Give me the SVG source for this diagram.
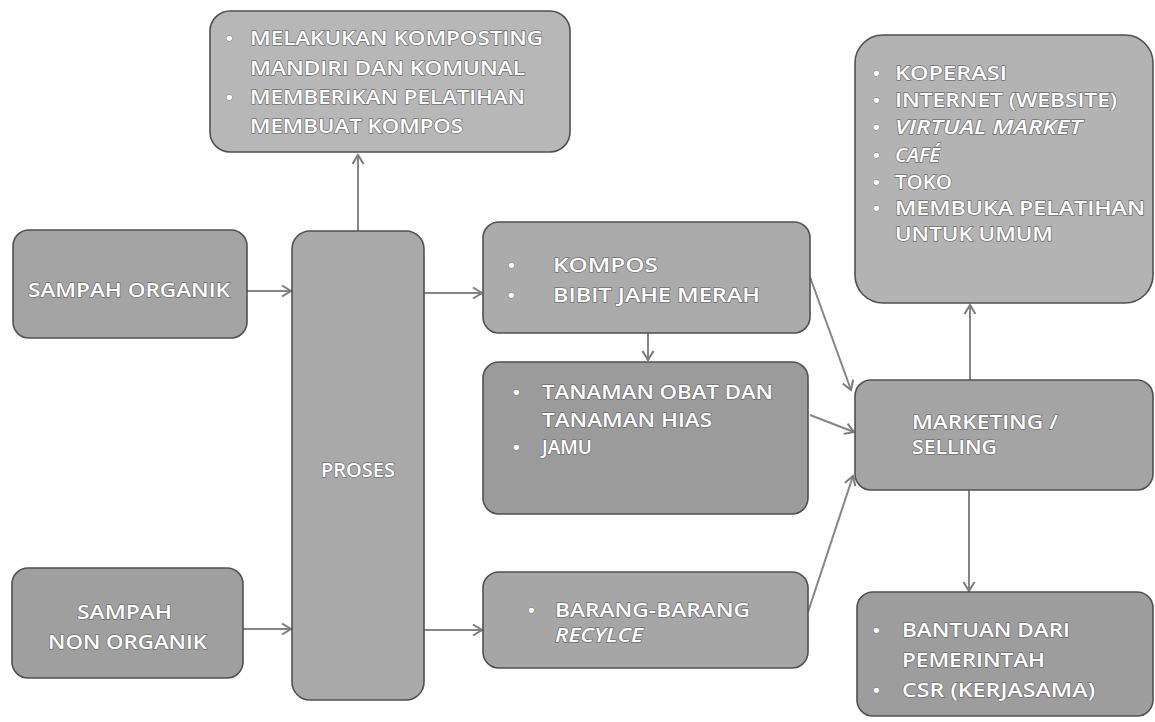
<svg xmlns="http://www.w3.org/2000/svg" width="1155" height="722" viewBox="0 0 1155 722">
<defs>
<marker id="arr" markerWidth="14" markerHeight="14" refX="11" refY="7" orient="auto" markerUnits="userSpaceOnUse">
<path d="M2,1.5 L11,7 L2,12.5" fill="none" stroke="#7a7a7a" stroke-width="2"/>
</marker>
<style>
.box{stroke:#505050;stroke-width:1.6}
.t{font-family:"Open Sans","Liberation Sans",sans-serif;font-size:19.5px;font-weight:600;fill:#ffffff;stroke:#707070;stroke-width:1.3;paint-order:stroke}
.i{font-style:italic}
.b{font-family:"Liberation Sans",sans-serif;font-size:19px;font-weight:bold;fill:#ffffff;stroke:#777;stroke-width:0.8;paint-order:stroke}
.c{stroke:#858585;stroke-width:2;fill:none;marker-end:url(#arr)}
</style>
</defs>
<rect width="1155" height="722" fill="#ffffff"/>

<g id="connectors">
<line class="c" x1="247" y1="291" x2="291" y2="291"/>
<line class="c" x1="243" y1="629" x2="291" y2="629"/>
<line class="c" x1="424" y1="293" x2="482" y2="293"/>
<line class="c" x1="424" y1="630" x2="482" y2="630"/>
<line class="c" x1="358" y1="231" x2="358" y2="155"/>
<line class="c" x1="648" y1="333" x2="648" y2="360"/>
<line class="c" x1="810" y1="277" x2="851" y2="390"/>
<line class="c" x1="810" y1="415" x2="854" y2="432"/>
<line class="c" x1="808" y1="612" x2="853" y2="476"/>
<line class="c" x1="970" y1="380" x2="970" y2="305"/>
<line class="c" x1="969" y1="490" x2="969" y2="591"/>
</g>

<g id="n-kompos-top">
<rect class="box" x="210" y="11" width="360" height="141" rx="20" fill="#b7b7b7"/>
<text class="b" x="226" y="44">•</text>
<text class="t" x="250" y="45" textLength="293" lengthAdjust="spacingAndGlyphs">MELAKUKAN KOMPOSTING</text>
<text class="t" x="250" y="75" textLength="275" lengthAdjust="spacingAndGlyphs">MANDIRI DAN KOMUNAL</text>
<text class="b" x="226" y="103">•</text>
<text class="t" x="250" y="104" textLength="275" lengthAdjust="spacingAndGlyphs">MEMBERIKAN PELATIHAN</text>
<text class="t" x="250" y="133" textLength="213" lengthAdjust="spacingAndGlyphs">MEMBUAT KOMPOS</text>
</g>

<g id="n-pemasaran">
<rect class="box" x="855" y="35" width="298" height="268" rx="28" fill="#b3b3b3"/>
<text class="b" x="873" y="79">•</text>
<text class="t" x="895" y="80" textLength="112" lengthAdjust="spacingAndGlyphs">KOPERASI</text>
<text class="b" x="873" y="106">•</text>
<text class="t" x="895" y="107" textLength="222" lengthAdjust="spacingAndGlyphs">INTERNET (WEBSITE)</text>
<text class="b" x="873" y="133">•</text>
<text class="t i" x="895" y="134" textLength="187" lengthAdjust="spacingAndGlyphs">VIRTUAL MARKET</text>
<text class="b" x="873" y="161">•</text>
<text class="t i" x="895" y="162" textLength="45" lengthAdjust="spacingAndGlyphs">CAFÉ</text>
<text class="b" x="873" y="188">•</text>
<text class="t" x="895" y="189" textLength="57" lengthAdjust="spacingAndGlyphs">TOKO</text>
<text class="b" x="873" y="214">•</text>
<text class="t" x="895" y="215" textLength="250" lengthAdjust="spacingAndGlyphs">MEMBUKA PELATIHAN</text>
<text class="t" x="895" y="241" textLength="158" lengthAdjust="spacingAndGlyphs">UNTUK UMUM</text>
</g>

<g id="n-sampah-organik">
<rect class="box" x="13" y="230" width="234" height="108" rx="16" fill="#a4a4a4"/>
<text class="t" x="28" y="297" textLength="202" lengthAdjust="spacingAndGlyphs">SAMPAH ORGANIK</text>
</g>

<g id="n-proses">
<rect class="box" x="292" y="231" width="132" height="469" rx="18" fill="#a9a9a9"/>
<text class="t" x="321" y="477" textLength="74" lengthAdjust="spacingAndGlyphs">PROSES</text>
</g>

<g id="n-sampah-non">
<rect class="box" x="12" y="568" width="231" height="110" rx="16" fill="#9f9f9f"/>
<text class="t" x="77" y="619" textLength="95" lengthAdjust="spacingAndGlyphs">SAMPAH</text>
<text class="t" x="48" y="649" textLength="159" lengthAdjust="spacingAndGlyphs">NON ORGANIK</text>
</g>

<g id="n-kompos">
<rect class="box" x="483" y="222" width="327" height="111" rx="16" fill="#ababab"/>
<text class="b" x="508" y="271">•</text>
<text class="t" x="553" y="272" textLength="105" lengthAdjust="spacingAndGlyphs">KOMPOS</text>
<text class="b" x="508" y="301">•</text>
<text class="t" x="553" y="302" textLength="207" lengthAdjust="spacingAndGlyphs">BIBIT JAHE MERAH</text>
</g>

<g id="n-tanaman">
<rect class="box" x="483" y="362" width="325" height="152" rx="16" fill="#9b9b9b"/>
<text class="b" x="513" y="398">•</text>
<text class="t" x="542" y="399" textLength="231" lengthAdjust="spacingAndGlyphs">TANAMAN OBAT DAN</text>
<text class="t" x="542" y="427" textLength="170" lengthAdjust="spacingAndGlyphs">TANAMAN HIAS</text>
<text class="b" x="513" y="453">•</text>
<text class="t" x="542" y="454" textLength="50" lengthAdjust="spacingAndGlyphs">JAMU</text>
</g>

<g id="n-barang">
<rect class="box" x="483" y="572" width="325" height="96" rx="16" fill="#a6a6a6"/>
<text class="b" x="528" y="616">•</text>
<text class="t" x="555" y="617" textLength="195" lengthAdjust="spacingAndGlyphs">BARANG-BARANG</text>
<text class="t i" x="555" y="642" textLength="88" lengthAdjust="spacingAndGlyphs">RECYLCE</text>
</g>

<g id="n-marketing">
<rect class="box" x="855" y="380" width="298" height="110" rx="16" fill="#a4a4a4"/>
<text class="t" x="912" y="429" textLength="146" lengthAdjust="spacingAndGlyphs">MARKETING /</text>
<text class="t" x="912" y="454" textLength="85" lengthAdjust="spacingAndGlyphs">SELLING</text>
</g>

<g id="n-bantuan">
<rect class="box" x="857" y="592" width="296" height="124" rx="16" fill="#9d9d9d"/>
<text class="b" x="873" y="636">•</text>
<text class="t" x="902" y="637" textLength="168" lengthAdjust="spacingAndGlyphs">BANTUAN DARI</text>
<text class="t" x="902" y="667" textLength="143" lengthAdjust="spacingAndGlyphs">PEMERINTAH</text>
<text class="b" x="873" y="696">•</text>
<text class="t" x="902" y="697" textLength="193" lengthAdjust="spacingAndGlyphs">CSR (KERJASAMA)</text>
</g>
</svg>
